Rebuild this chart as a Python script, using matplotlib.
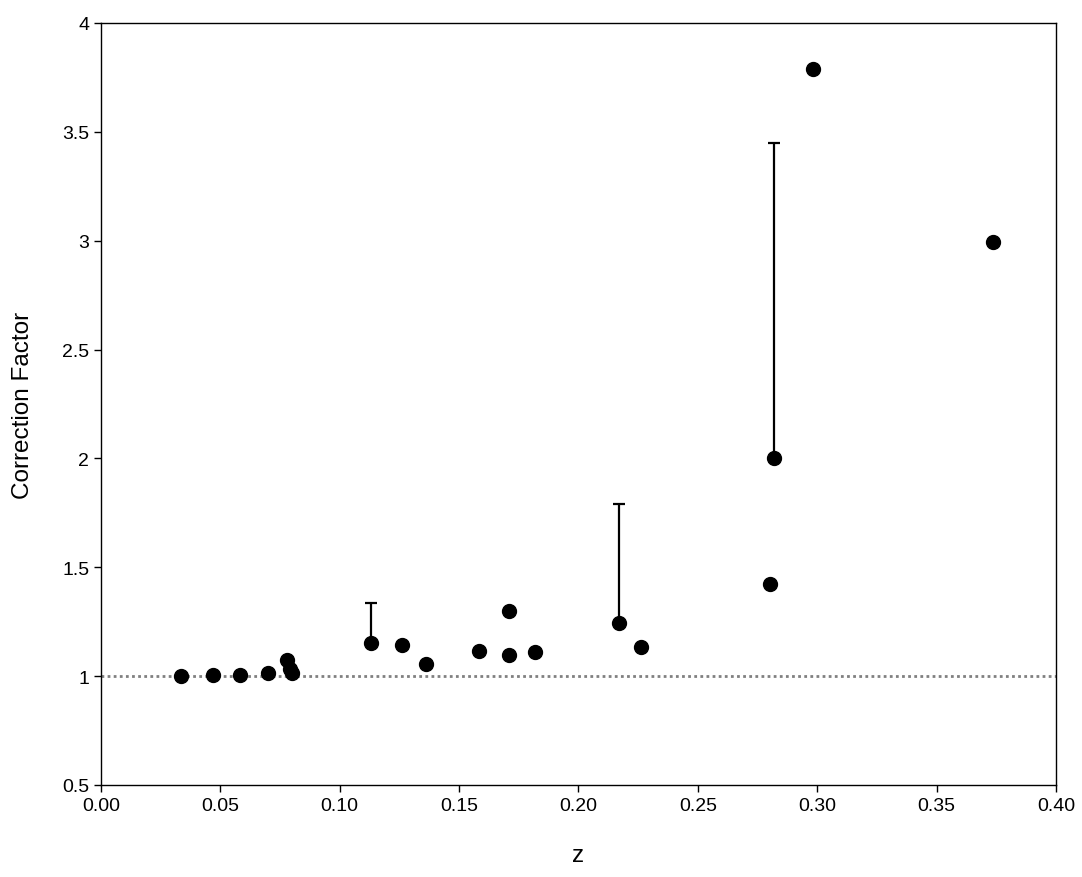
import matplotlib
matplotlib.use('Agg')
import matplotlib.pyplot as plt
import numpy as np

plt.rcParams['font.family'] = ['Liberation Sans', 'DejaVu Sans']

# redshift and correction factor
z = [0.0335, 0.0469, 0.0582, 0.0700, 0.0779, 0.0792, 0.0800, 0.1131, 0.1261,
     0.1361, 0.1583, 0.1709, 0.1709, 0.1818, 0.2170, 0.2262, 0.2802, 0.2819,
     0.2982, 0.3736]
cf = [1.000, 1.003, 1.004, 1.015, 1.074, 1.032, 1.016, 1.152, 1.145,
      1.055, 1.115, 1.299, 1.097, 1.111, 1.244, 1.134, 1.423, 2.002,
      3.789, 2.994]
# upper error bars (only three points have them)
err_z = [0.1131, 0.2170, 0.2819]
err_lo = [1.152, 1.244, 2.002]
err_hi = [1.336, 1.790, 3.449]

fig = plt.figure(figsize=(10.82, 8.78), dpi=100)
ax = fig.add_axes([0.0933, 0.1048, 0.8827, 0.8679])

ax.axhline(1.0, color='#808080', lw=2, ls=(0, (1, 1.2)), zorder=1)

up = np.array(err_hi) - np.array(err_lo)
ax.errorbar(err_z, err_lo, yerr=[np.zeros(3), up], fmt='none', ecolor='black',
            elinewidth=1.6, capsize=4, capthick=1.6, zorder=2)
ax.plot(z, cf, 'o', color='black', ms=10, zorder=3)

ax.set_xlim(0, 0.4)
ax.set_ylim(0.5, 4)
ax.set_xticks(np.arange(0, 0.41, 0.05))
ax.set_xticklabels(['%.2f' % v for v in np.arange(0, 0.41, 0.05)])
ax.set_yticks([0.5, 1, 1.5, 2, 2.5, 3, 3.5, 4])
ax.set_yticklabels(['0.5', '1', '1.5', '2', '2.5', '3', '3.5', '4'])
ax.tick_params(direction='out', length=5, width=1, labelsize=14)
for s in ax.spines.values():
    s.set_linewidth(1)

ax.set_xlabel('z', fontsize=17.5, labelpad=22)
ax.set_ylabel('Correction Factor', fontsize=17.5, labelpad=20)

fig.savefig('out.png', dpi=100)
